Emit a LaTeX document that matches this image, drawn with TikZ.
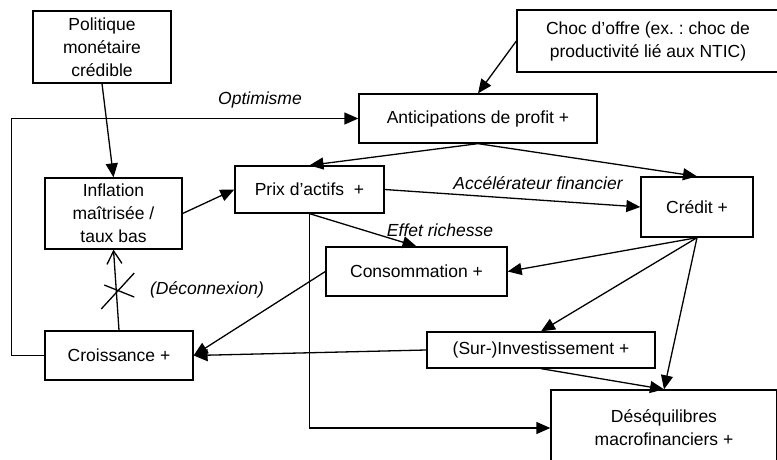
\documentclass[tikz,border=0pt]{standalone}
\usepackage{fontspec}
\setmainfont{Liberation Sans}
\usetikzlibrary{arrows.meta}
\frenchspacing

\begin{document}
\begin{tikzpicture}[x=1pt, y=-1pt, line width=1.3pt,
  box/.style={draw, align=center, inner sep=0pt, font=\fontsize{17.5}{23}\selectfont},
  lbl/.style={inner sep=0pt, font=\fontsize{17.5}{23}\selectfont\itshape},
  >={Triangle[length=14pt, width=12pt]}]
\clip (0,0) rectangle (777,460);

\node[box, minimum width=138pt, minimum height=72pt] (politique) at (102, 47) {Politique\\monétaire\\crédible};
\node[box, minimum width=262pt, minimum height=62pt] (choc) at (648, 41) {Choc d’offre (ex. : choc de\\productivité lié aux NTIC)};
\node[box, minimum width=238pt, minimum height=49pt] (anticip) at (478, 118.5) {Anticipations de profit +};
\node[box, minimum width=137pt, minimum height=71pt] (inflation) at (113.5, 213.5) {Inflation\\maîtrisée /\\taux bas};
\node[box, minimum width=149pt, minimum height=47pt] (prix) at (309.5, 189.5) {Prix d’actifs~~+};
\node[box, minimum width=112pt, minimum height=60pt] (credit) at (697, 207) {Crédit +};
\node[box, minimum width=181pt, minimum height=49pt] (conso) at (416.5, 271.5) {Consommation +};
\node[box, minimum width=148pt, minimum height=49pt] (croiss) at (119, 355.5) {Croissance +};
\node[box, minimum width=228pt, minimum height=36pt] (invest) at (541, 350) {(Sur-)Investissement +};
\node[box, minimum width=226pt, minimum height=76pt] (deseq) at (664, 428) {Déséquilibres\\macrofinanciers +};

\node[lbl] (optimisme) at (260, 100) {Optimisme};
\node[lbl] (accel) at (538, 183) {Accélérateur financier};
\node[lbl] (richesse) at (440, 230) {Effet richesse};
\node[lbl] (deconnex) at (207, 290) {(Déconnexion)};

\path[->]
(politique.south) edge (inflation.north)
(choc.west) edge (anticip.north)
(anticip.south) edge (prix.north)
(anticip.south) edge (credit.north)
(inflation.east) edge (prix.west)
(prix.east) edge (credit.west)
(prix.south) edge (conso.north)
(credit.south) edge (conso.east)
(credit.south) edge (invest.north)
(credit.south) edge (deseq.north)
(invest.south) edge (deseq.north)
(invest.west) edge (croiss.east)
(conso.west) edge (croiss.east);

\draw[->] (prix.south) |- (deseq.west);
\draw[->] (croiss.west) -- ++(-33,0) |- (anticip.west);
\draw[-{Straight Barb[length=13pt, width=15pt]}] (croiss.north) -- (inflation.south) coordinate[pos=0.5] (coupure);
\draw (coupure) ++(-15,19) -- ++(33,-36);
\draw (coupure) ++(-12,-5) -- ++(30,12);
\end{tikzpicture}
\end{document}
